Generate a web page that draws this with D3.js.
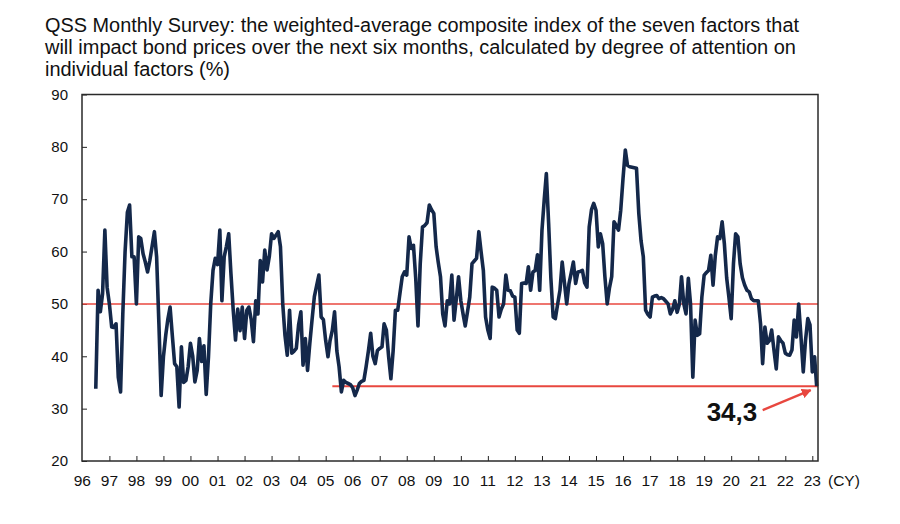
<!DOCTYPE html>
<html>
<head>
<meta charset="utf-8">
<script src="https://cdn.jsdelivr.net/npm/d3@7"></script>
<style>
  body { margin: 0; background: #fff; }
  svg { display: block; }
</style>
</head>
<body>
<div id="chart"></div>
<script>
// monthly composite index, Jul 1996 .. Mar 2023 (%)
var startMonth = '1996-07';
var values = [
  33.8, 52.6, 48.5, 52, 64.1, 53.2,
  50, 45.6, 45.5, 46.2, 36, 33.2, 48, 60, 67.5, 68.9, 59, 59,
  50, 62.8, 62.5, 59.6, 58, 56.1, 58.3, 61, 63.8, 59, 46.2, 32.5,
  39.9, 44, 47, 49.4, 44, 38.6, 38, 30.3, 41.8, 35, 35.4, 38,
  42.5, 40, 35.1, 37.3, 43.4, 39, 42, 32.7, 40, 50, 56.4, 58.7,
  57.5, 64.1, 50.6, 59, 61, 63.4, 55.8, 48.8, 43.1, 49, 44.9, 49.4,
  43.4, 48.8, 49.4, 47, 42.8, 50.6, 48.1, 58.3, 54.2, 60.3, 56.5, 59,
  63.4, 62.5, 63.1, 63.8, 60.9, 50, 44, 40.2, 48.8, 40.6, 41, 41.5,
  46, 48.5, 38.3, 43.4, 37.3, 42.5, 47, 51.4, 53.5, 55.5, 47.5, 47,
  43, 39.9, 43, 45, 48.5, 41, 38, 33.2, 35.4, 35, 34.8, 34.6, 34,
  32.5, 33.5, 34.8, 35.2, 35.4, 38, 41, 44.4, 40, 38.6, 41.1, 41.5,
  41.8, 46.2, 45, 40, 35.7, 41, 48.8, 48.8, 52, 55.2, 56.1, 55.5,
  62.8, 60.6, 61.2, 55, 45.8, 57.6, 64.7, 65, 65.5, 68.9, 68, 67.3,
  60.9, 58, 55.2, 48.1, 45.8, 50.6, 50, 55.5, 46.9, 51, 55.2, 50.6,
  48, 45.8, 48.5, 51.3, 57.7, 58.2, 58.7, 63.8, 60, 56.4, 47.5, 45,
  43.4, 53.2, 53, 52.6, 47.5, 49, 50, 55.5, 52.6, 52.5, 51.5, 51.3,
  45, 44.4, 53.9, 54, 53.9, 57.1, 52.6, 56.1, 56.4, 59.4, 52.6, 64.1,
  70, 74.9, 65.4, 55, 47.5, 47.2, 50, 52.6, 58, 54, 50, 53.9,
  56, 58, 53.9, 56.1, 56.2, 56.4, 54, 53.2, 64.7, 68, 69.2, 67.9,
  60.9, 63.4, 61.5, 55.2, 50, 53, 55.2, 65.7, 65, 64.1, 67.9, 74,
  79.4, 76.5, 76.2, 76.1, 76, 75.9, 67.3, 62, 59, 48.8, 48, 47.5,
  51.3, 51.5, 51.6, 51, 51.2, 51, 50.5, 50, 48.1, 49, 50.6, 48.4, 50,
  55.2, 50, 48.1, 54.9, 50, 36, 46.9, 44, 44.3, 51.3, 55.5, 56,
  56.4, 59.3, 53.6, 59.3, 62.8, 62.5, 65.7, 61.5, 55, 51.3, 47.2, 57.7,
  63.4, 62.8, 57.7, 55, 53.6, 52.6, 52.3, 51, 50.6, 50.6, 50.6, 46.2,
  38.6, 45.6, 42.5, 43, 45, 41.2, 37.6, 43.7, 43, 42.5, 40.6, 40.3,
  40.2, 41.2, 46.9, 43.7, 50, 43.7, 37, 43, 47.2, 46, 37, 39.9,
  34.3
];
var yearLabels = ['96', '97', '98', '99', '00', '01', '02', '03', '04', '05', '06', '07', '08', '09',
  '10', '11', '12', '13', '14', '15', '16', '17', '18', '19', '20', '21', '22', '23'];
var yTicks = [20, 30, 40, 50, 60, 70, 80, 90];
var refLevel = 50;
var latest = 34.3;
var latestLabel = '34,3';
var lowLineFrom = '2005-04';
var titleLines = [
  'QSS Monthly Survey: the weighted-average composite index of the seven factors that',
  'will impact bond prices over the next six months, calculated by degree of attention on',
  'individual factors (%)'
];

var parseMonth = d3.timeParse('%Y-%m');

function Chart(container) {
  this.container = container;
  this.settings = {
    width: 900,
    height: 524,
    frame: { left: 82, top: 94.5, right: 818, bottom: 461 },
    font: '"Liberation Sans", Arial, sans-serif',
    navy: '#14284a',
    red: '#e8473f'
  };
  this.data = this.getData();
  this.element = this.create();
  this.scales = this.getScales();
  this.drawTitle();
  this.drawAxes();
  this.drawReferenceLines();
  this.drawLine();
  this.drawAnnotation();
  this.drawFrame();
}

Chart.prototype.getData = function() {
  var start = parseMonth(startMonth);
  return values.map(function(v, i) {
    return { date: d3.timeMonth.offset(start, i), value: v };
  });
};

Chart.prototype.create = function() {
  return d3.select(this.container).append('svg')
    .attr('width', this.settings.width)
    .attr('height', this.settings.height);
};

Chart.prototype.getScales = function() {
  var f = this.settings.frame;
  return {
    x: d3.scaleTime()
      .domain([new Date(1996, 0, 1), new Date(2023, 0, 1)])
      .range([82.3, 812.3]),
    y: d3.scaleLinear().domain([20, 90]).range([f.bottom, f.top])
  };
};

Chart.prototype.drawTitle = function() {
  var widths = [754, 751, 185];
  var title = this.element.append('g').attr('class', 'title');
  var font = this.settings.font;
  titleLines.forEach(function(line, i) {
    title.append('text')
      .attr('x', 45)
      .attr('y', 31.5 + i * 22)
      .attr('font-family', font)
      .attr('font-size', 19.5)
      .attr('fill', '#111')
      .attr('textLength', widths[i])
      .attr('lengthAdjust', 'spacingAndGlyphs')
      .text(line);
  });
};

Chart.prototype.drawAxes = function() {
  var s = this.scales, f = this.settings.frame, font = this.settings.font;

  var yAxis = this.element.append('g')
    .attr('class', 'y-axis')
    .attr('transform', 'translate(' + f.left + ',0)')
    .call(d3.axisRight(s.y).tickValues(yTicks).tickSize(5).tickFormat(''));
  yAxis.select('.domain').remove();
  yAxis.selectAll('line').attr('stroke', '#222');

  this.element.append('g')
    .attr('class', 'y-labels')
    .selectAll('text')
    .data(yTicks)
    .enter().append('text')
    .attr('x', f.left - 14)
    .attr('y', function(d) { return s.y(d); })
    .attr('dy', '0.35em')
    .attr('text-anchor', 'end')
    .attr('font-family', font)
    .attr('font-size', 15)
    .attr('fill', '#111')
    .text(function(d) { return d; });

  var years = yearLabels.map(function(l, i) { return new Date(1996 + i, 0, 1); });

  var xAxis = this.element.append('g')
    .attr('class', 'x-axis')
    .attr('transform', 'translate(0,' + f.bottom + ')')
    .call(d3.axisTop(s.x).tickValues(years.slice(1)).tickSize(5).tickFormat(''));
  xAxis.select('.domain').remove();
  xAxis.selectAll('line').attr('stroke', '#222');

  this.element.append('g')
    .attr('class', 'x-labels')
    .selectAll('text')
    .data(years)
    .enter().append('text')
    .attr('x', function(d) { return s.x(d); })
    .attr('y', f.bottom + 25)
    .attr('text-anchor', 'middle')
    .attr('font-family', font)
    .attr('font-size', 15.5)
    .attr('fill', '#111')
    .text(function(d, i) { return yearLabels[i]; });

  this.element.append('text')
    .attr('x', f.right + 10)
    .attr('y', f.bottom + 25)
    .attr('font-family', font)
    .attr('font-size', 15.5)
    .attr('fill', '#111')
    .text('(CY)');
};

Chart.prototype.drawReferenceLines = function() {
  var s = this.scales, f = this.settings.frame;
  this.element.append('line')
    .attr('x1', f.left).attr('x2', f.right)
    .attr('y1', s.y(refLevel)).attr('y2', s.y(refLevel))
    .attr('stroke', this.settings.red)
    .attr('stroke-width', 1.5);
  this.element.append('line')
    .attr('x1', s.x(parseMonth(lowLineFrom))).attr('x2', f.right)
    .attr('y1', s.y(latest)).attr('y2', s.y(latest))
    .attr('stroke', this.settings.red)
    .attr('stroke-width', 2);
};

Chart.prototype.drawLine = function() {
  var s = this.scales;
  var line = d3.line()
    .x(function(d) { return s.x(d.date); })
    .y(function(d) { return s.y(d.value); });
  this.element.append('path')
    .datum(this.data)
    .attr('fill', 'none')
    .attr('stroke', this.settings.navy)
    .attr('stroke-width', 3.6)
    .attr('stroke-linejoin', 'round')
    .attr('d', line);
};

Chart.prototype.drawAnnotation = function() {
  var s = this.scales, red = this.settings.red;
  var last = this.data[this.data.length - 1];
  var tipX = s.x(last.date) - 6, tipY = s.y(last.value) + 4;
  var defs = this.element.append('defs');
  defs.append('marker')
    .attr('id', 'arrow')
    .attr('viewBox', '0 0 10 10')
    .attr('refX', 9).attr('refY', 5)
    .attr('markerWidth', 4.5).attr('markerHeight', 4.5)
    .attr('orient', 'auto')
    .append('path')
    .attr('d', 'M0,0 L10,5 L0,10 z')
    .attr('fill', red);
  this.element.append('line')
    .attr('x1', tipX - 48).attr('y1', tipY + 20)
    .attr('x2', tipX).attr('y2', tipY)
    .attr('stroke', red)
    .attr('stroke-width', 2.2)
    .attr('marker-end', 'url(#arrow)');
  this.element.append('text')
    .attr('x', tipX - 104)
    .attr('y', tipY + 31)
    .attr('font-family', this.settings.font)
    .attr('font-size', 26)
    .attr('font-weight', 'bold')
    .attr('fill', '#111')
    .text(latestLabel);
};

Chart.prototype.drawFrame = function() {
  var f = this.settings.frame;
  this.element.append('rect')
    .attr('x', f.left).attr('y', f.top)
    .attr('width', f.right - f.left).attr('height', f.bottom - f.top)
    .attr('fill', 'none')
    .attr('stroke', '#2a2a2a')
    .attr('stroke-width', 1.5);
};

new Chart('#chart');
</script>
</body>
</html>
